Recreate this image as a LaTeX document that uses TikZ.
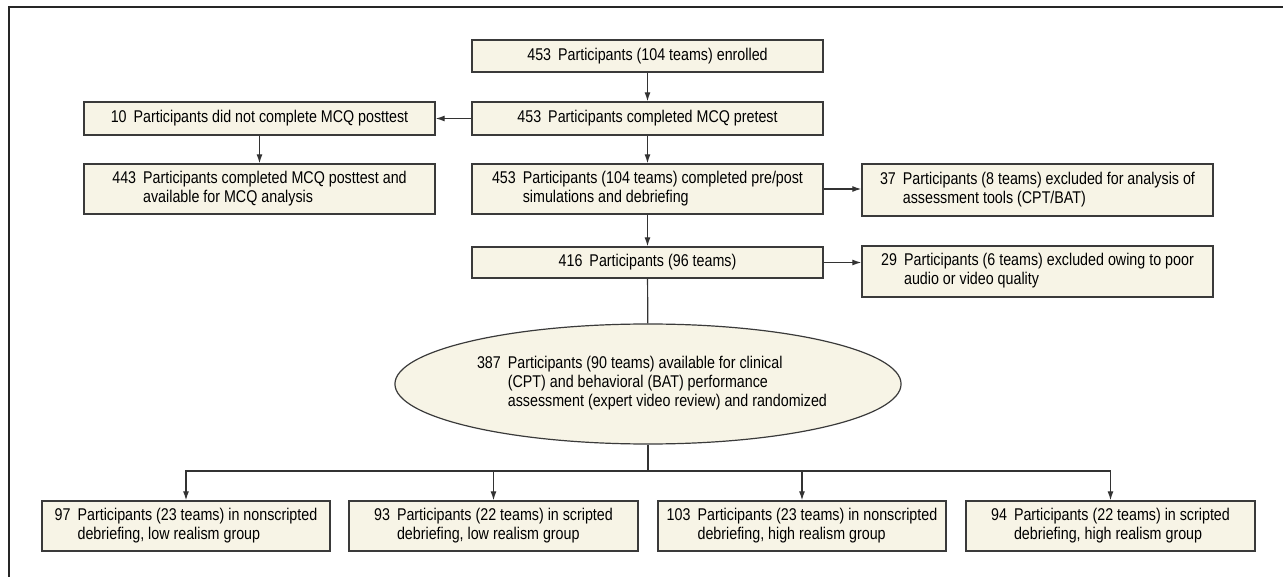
\documentclass[tikz,border=0pt]{standalone}
\usepackage{fontspec}
\setmainfont{Liberation Sans}[FakeStretch=0.84]
\usetikzlibrary{shapes.geometric,arrows.meta}
\definecolor{boxfill}{HTML}{F7F4E6}
\definecolor{boxline}{HTML}{3A3A3A}
\definecolor{lineclr}{HTML}{333333}
\newcommand{\hangtext}[1]{\begin{tabular}{@{}l@{\hspace{7pt}}l@{}}#1\end{tabular}}
\newcommand{\numgap}{\hspace{7pt}}
\tikzset{
  x=1pt, y=-1pt,
  fbox/.style={draw=boxline, line width=1.4pt, fill=boxfill, rectangle, inner sep=0pt,
    minimum width=351pt, font=\fontsize{17pt}{19pt}\selectfont, align=center},
  gbox/.style={fbox, minimum height=50pt},
  fell/.style={draw=boxline, line width=1.2pt, fill=boxfill, ellipse, inner sep=0pt,
    minimum width=417pt, minimum height=120pt, font=\fontsize{17pt}{19pt}\selectfont},
  conn/.style={draw=lineclr, line width=1.2pt},
  arr/.style={conn, -{Latex[length=9pt,width=6pt]}}
}
\begin{document}
\begin{tikzpicture}
\useasboundingbox (0,0) rectangle (1283,577);
\draw[line width=1.6pt, draw=black!85] (9,577) -- (9,7) -- (1283,7);

\node[fbox, minimum height=32pt] (A) at (647.5,56) {453\numgap Participants (104 teams) enrolled};
\node[fbox, minimum height=33pt] (B) at (647.5,118.5) {453\numgap Participants completed MCQ pretest};
\node[fbox, minimum height=33pt] (C) at (259.5,118.5) {10\numgap Participants did not complete MCQ posttest};
\node[gbox] (D) at (259.5,189) {\hangtext{443 & Participants completed MCQ posttest and\\ & available for MCQ analysis}};
\node[gbox] (E) at (647.5,189) {\hangtext{453 & Participants (104 teams) completed pre/post\\ & simulations and debriefing}};
\node[gbox, minimum height=52pt] (F) at (1037.5,190) {\hangtext{37 & Participants (8 teams) excluded for analysis of\\ & assessment tools (CPT/BAT)}};
\node[fbox, minimum height=31pt] (H) at (647.5,262.5) {416\numgap Participants (96 teams)};
\node[gbox, minimum height=51pt] (G) at (1037.5,271.5) {\hangtext{29 & Participants (6 teams) excluded owing to poor\\ & audio or video quality}};
\node[fell] (R) at (648,384) {\hspace{8pt}\hangtext{387 & Participants (90 teams) available for clinical\\ & (CPT) and behavioral (BAT) performance\\ & assessment (expert video review) and randomized}};

\node[gbox, minimum width=288pt] (G1) at (186,526) {\hangtext{97 & Participants (23 teams) in nonscripted\\ & debriefing, low realism group}};
\node[gbox, minimum width=289pt] (G2) at (493.5,526) {\hangtext{93 & Participants (22 teams) in scripted\\ & debriefing, low realism group}};
\node[gbox, minimum width=288pt] (G3) at (802,526) {\hangtext{103 & Participants (23 teams) in nonscripted\\ & debriefing, high realism group}};
\node[gbox, minimum width=289pt] (G4) at (1110.5,526) {\hangtext{94 & Participants (22 teams) in scripted\\ & debriefing, high realism group}};

\coordinate (split) at (648,471);

\draw[arr] (A) -- (B);
\draw[arr] (B) -- (C);
\draw[arr] (C) -- (D);
\draw[arr] (B) -- (E);
\draw[arr] (E.east) -- (E.east -| F.west);
\draw[arr] (E) -- (H);
\draw[arr] (H.east) -- (H.east -| G.west);
\draw[conn] (H) -- (R);
\draw[conn] (R.south) -- (split);
\draw[arr] (split) -| (G1.north);
\draw[arr] (split) -| (G2.north);
\draw[arr] (split) -| (G3.north);
\draw[arr] (split) -| (G4.north);
\end{tikzpicture}
\end{document}
